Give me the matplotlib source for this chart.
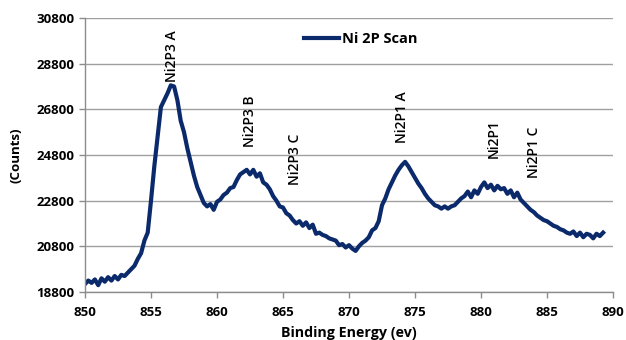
import numpy as np
import matplotlib
matplotlib.use("Agg")
import matplotlib.pyplot as plt

counts = [
    19150, 19300, 19200, 19350, 19100, 19400, 19250, 19450, 19300, 19500,
    19350, 19550, 19500, 19650, 19800, 19950, 20250, 20500, 21050, 21400,
    22800, 24300, 25600, 26900, 27200, 27500, 27850, 27800, 27200, 26300,
    25800, 25100, 24500, 23900, 23400, 23050, 22700, 22550, 22650, 22400,
    22750, 22850, 23050, 23150, 23350, 23400, 23700, 23950, 24050, 24150,
    23950, 24150, 23850, 24000, 23600, 23500, 23300, 23000, 22800, 22550,
    22500, 22250, 22150, 21950, 21800, 21900, 21700, 21850, 21600, 21750,
    21350, 21400, 21300, 21250, 21150, 21100, 21050, 20850, 20900, 20750,
    20850, 20700, 20600, 20800, 20950, 21050, 21200, 21500, 21600, 21900,
    22600, 22900, 23300, 23600, 23900, 24150, 24350, 24500, 24300, 24050,
    23800, 23550, 23350, 23100, 22900, 22750, 22600, 22550, 22450, 22550,
    22450, 22550, 22600, 22750, 22900, 23000, 23200, 22950, 23250, 23100,
    23400, 23600, 23350, 23500, 23250, 23450, 23300, 23350, 23100, 23250,
    22950, 23150, 22850, 22700, 22550, 22400, 22300, 22150, 22050, 21950,
    21900, 21800, 21700, 21650, 21550, 21500, 21400, 21350, 21450, 21250,
    21400, 21200, 21350, 21300, 21150, 21350, 21250, 21400,
]
start_ev = 850.0
step_ev = 0.25
energy = start_ev + step_ev * np.arange(len(counts))

peak_labels = ["Ni2P3 A", "Ni2P3 B", "Ni2P3 C", "Ni2P1 A", "Ni2P1", "Ni2P1 C"]
peak_x = [856.6, 862.5, 865.9, 874.0, 881.0, 884.0]
peak_y = [28000, 25150, 23500, 25330, 24670, 23790]

xticks = [850, 855, 860, 865, 870, 875, 880, 885, 890]
yticks = [18800, 20800, 22800, 24800, 26800, 28800, 30800]

plt.rcParams['font.family'] = ['Open Sans', 'DejaVu Sans']

fig = plt.figure(figsize=(6.26, 3.4), dpi=100)
ax = fig.add_axes([85/626, 48/340, 528/626, 274/340])

navy = '#0b2a6b'
ax.plot(energy, counts, color=navy, lw=3.0, label='Ni 2P Scan', solid_joinstyle='round')

ax.set_xlim(850, 890)
ax.set_ylim(18800, 30800)
ax.set_xticks(xticks)
ax.set_yticks(yticks)
ax.set_xticklabels([str(t) for t in xticks], fontsize=9.5, fontweight='bold')
ax.set_yticklabels([str(t) for t in yticks], fontsize=9.5, fontweight='bold')
ax.yaxis.grid(True, color='#a0a0a0', lw=1)
ax.set_axisbelow(True)
for s in ['top', 'right']:
    ax.spines[s].set_visible(False)
for s in ['left', 'bottom']:
    ax.spines[s].set_color('#8c8c8c')
    ax.spines[s].set_linewidth(1)
ax.tick_params(axis='both', colors='#8c8c8c', length=4, width=1, labelcolor='black')
ax.tick_params(axis='x', pad=6)

for lab, x, y in zip(peak_labels, peak_x, peak_y):
    ax.text(x, y, lab, rotation=90, ha='center', va='bottom', fontsize=10,
            fontweight='semibold', color='black')

ax.set_xlabel('Binding Energy (ev)', fontsize=10.3, fontweight='bold', labelpad=5)
ax.set_ylabel('(Counts)', fontsize=9.5, fontweight='bold', labelpad=10)

leg = ax.legend(loc='upper left', bbox_to_anchor=(0.39, 0.995), frameon=False,
                handlelength=2.4, handletextpad=0.2, prop={'weight': 'bold', 'size': 10.5})

fig.savefig('out.png', dpi=100)
